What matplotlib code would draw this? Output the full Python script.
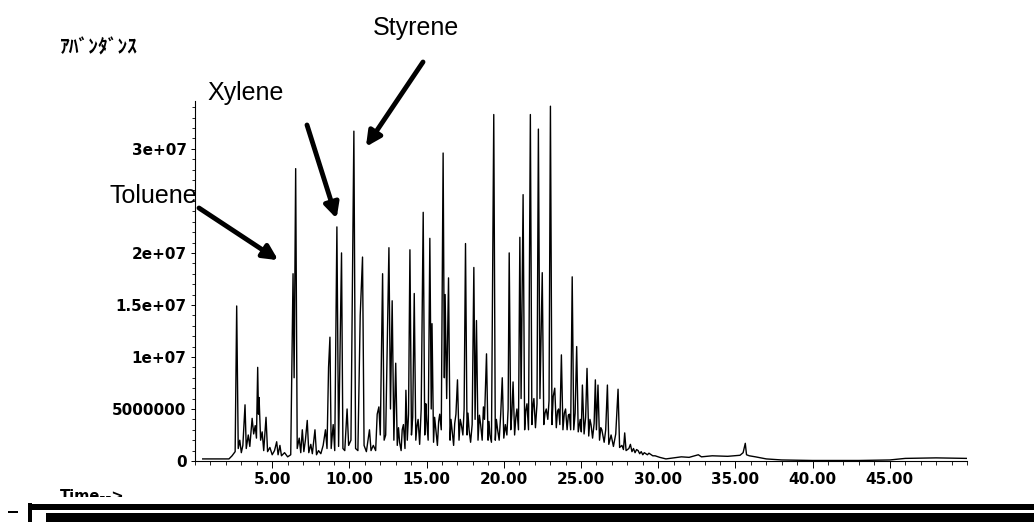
import matplotlib
matplotlib.use('Agg')
import matplotlib.pyplot as plt
from matplotlib.patches import Rectangle
from matplotlib.ticker import FixedLocator, MultipleLocator
from matplotlib.transforms import Bbox

# chromatogram trace: time (min), abundance (millions)
trace_time = [
    0.5, 2.2, 2.4, 2.6, 2.7, 2.8, 2.9, 3.0, 3.1, 3.24, 3.32, 3.45, 3.55, 3.7, 3.8, 3.9,
    3.98, 4.06, 4.11, 4.15, 4.25, 4.35, 4.45, 4.6, 4.7, 4.85, 5.0, 5.15, 5.29, 5.38, 5.5,
    5.6, 5.8, 6.0, 6.2, 6.35, 6.42, 6.52, 6.62, 6.75, 6.85, 6.95, 7.05, 7.15, 7.27, 7.37,
    7.5, 7.6, 7.77, 7.87, 8.0, 8.15, 8.3, 8.45, 8.55, 8.65, 8.74, 8.82, 8.95, 9.05, 9.19,
    9.3, 9.49, 9.58, 9.7, 9.85, 9.95, 10.1, 10.29, 10.4, 10.55, 10.7, 10.85, 10.95, 11.1,
    11.3, 11.4, 11.55, 11.7, 11.8, 11.91, 12.0, 12.15, 12.25, 12.35, 12.56, 12.66, 12.77,
    12.88, 13.0, 13.1, 13.18, 13.25, 13.35, 13.42, 13.5, 13.6, 13.66, 13.75, 13.83, 13.92,
    14.02, 14.1, 14.2, 14.3, 14.38, 14.45, 14.55, 14.65, 14.78, 14.88, 14.95, 15.0, 15.1,
    15.21, 15.3, 15.35, 15.45, 15.52, 15.6, 15.7, 15.78, 15.85, 15.95, 16.07, 16.15, 16.2,
    16.3, 16.42, 16.52, 16.58, 16.65, 16.75, 16.82, 16.9, 17.0, 17.1, 17.18, 17.25, 17.35,
    17.43, 17.52, 17.62, 17.68, 17.75, 17.85, 17.95, 18.06, 18.14, 18.23, 18.33, 18.42,
    18.5, 18.6, 18.68, 18.75, 18.88, 18.98, 19.04, 19.1, 19.2, 19.35, 19.45, 19.52, 19.6,
    19.7, 19.8, 19.9, 20.0, 20.1, 20.2, 20.28, 20.35, 20.45, 20.52, 20.6, 20.7, 20.78,
    20.85, 20.95, 21.04, 21.12, 21.25, 21.35, 21.42, 21.5, 21.6, 21.72, 21.82, 21.88,
    21.95, 22.05, 22.15, 22.24, 22.34, 22.49, 22.59, 22.67, 22.75, 22.85, 22.93, 23.02,
    23.12, 23.2, 23.3, 23.4, 23.48, 23.55, 23.63, 23.73, 23.83, 23.92, 24.0, 24.1, 24.18,
    24.25, 24.33, 24.43, 24.53, 24.62, 24.72, 24.82, 24.95, 25.02, 25.09, 25.2, 25.3,
    25.39, 25.5, 25.58, 25.65, 25.75, 25.85, 25.93, 26.0, 26.1, 26.2, 26.28, 26.35, 26.5,
    26.6, 26.71, 26.8, 26.95, 27.1, 27.25, 27.4, 27.5, 27.65, 27.75, 27.83, 27.92, 28.1,
    28.2, 28.3, 28.4, 28.5, 28.6, 28.7, 28.8, 28.9, 29.0, 29.1, 29.2, 29.3, 29.4, 29.5,
    29.65, 29.8, 30.1, 30.5, 31.0, 31.5, 32.0, 32.6, 32.8, 33.5, 34.5, 35.3, 35.5, 35.64,
    35.72, 35.9, 36.3, 37.0, 38.0, 40.0, 43.0, 45.0, 46.0, 48.0, 50.0,
]
trace_abund = [
    0.2, 0.2, 0.5, 0.9, 14.9, 1.2, 2.0, 0.8, 1.5, 5.4, 1.2, 2.5, 1.4, 4.1, 2.6, 3.4,
    2.2, 9.0, 4.5, 6.1, 2.0, 2.8, 1.0, 4.2, 0.9, 1.3, 0.6, 1.0, 1.85, 0.6, 1.5,
    0.5, 0.8, 0.4, 0.6, 18.0, 8.0, 28.1, 1.2, 2.2, 0.8, 3.0, 0.9, 2.0, 3.9, 0.8,
    1.6, 0.7, 3.0, 0.6, 1.0, 0.7, 1.5, 3.0, 1.2, 9.0, 11.9, 1.2, 3.5, 1.0, 22.5,
    1.4, 20.0, 1.2, 1.0, 5.0, 1.5, 2.0, 31.7, 1.2, 1.0, 14.0, 19.6, 1.5, 0.9,
    3.0, 1.0, 1.5, 1.0, 4.5, 5.2, 2.5, 18.0, 2.0, 2.5, 20.5, 5.0, 15.4,
    2.0, 9.4, 1.5, 3.2, 1.8, 1.0, 3.0, 3.5, 1.2, 6.8, 2.0, 4.5, 20.3,
    2.5, 4.2, 16.1, 2.0, 3.4, 4.0, 1.6, 5.0, 23.9, 2.5, 5.5, 4.0, 2.0,
    21.4, 5.0, 13.2, 1.8, 4.2, 3.0, 1.5, 3.8, 4.5, 3.0, 29.6, 8.0, 16.0,
    6.0, 17.6, 2.0, 4.0, 3.0, 1.5, 3.6, 4.5, 7.8, 2.0, 4.0, 3.5, 2.5,
    5.0, 20.9, 2.5, 4.6, 3.0, 1.8, 3.5, 18.6, 4.0, 13.5, 2.0, 4.4,
    3.5, 2.0, 5.2, 4.0, 10.3, 2.0, 3.8, 2.5, 1.8, 33.3, 2.0, 4.0, 3.0,
    2.0, 4.5, 8.0, 2.2, 3.5, 2.5, 5.0, 20.0, 3.0, 4.5, 7.6, 2.5, 4.2,
    5.0, 3.0, 21.5, 6.0, 25.6, 3.0, 4.8, 5.5, 3.0, 33.3, 3.5, 5.2,
    6.0, 3.2, 5.5, 31.9, 6.0, 18.1, 3.5, 4.6, 5.0, 4.0, 5.8, 34.1,
    3.5, 6.2, 7.0, 3.2, 4.8, 5.0, 3.5, 10.2, 3.0, 4.6, 5.0, 3.0, 4.4,
    4.5, 3.0, 17.7, 3.0, 4.6, 11.0, 2.8, 4.0, 2.8, 7.3, 2.6, 4.2,
    8.9, 2.4, 4.0, 3.5, 2.2, 3.6, 7.8, 3.0, 7.3, 2.0, 3.2, 3.0, 1.8,
    3.0, 7.3, 1.6, 2.5, 1.4, 2.6, 6.9, 1.3, 1.5, 1.1, 2.7, 1.0, 1.2,
    1.6, 0.9, 1.2, 0.8, 1.1, 1.0, 0.7, 0.9, 0.6, 0.8, 0.7, 0.6, 0.75, 0.65,
    0.5, 0.5, 0.35, 0.2, 0.3, 0.4, 0.35, 0.6, 0.4, 0.5, 0.45, 0.55, 0.8, 1.7,
    0.6, 0.5, 0.4, 0.2, 0.1, 0.05, 0.05, 0.1, 0.25, 0.3, 0.25,
]

ytick_vals = [0, 5, 10, 15, 20, 30]
ytick_labels = ['0', '5000000', '1e+07', '1.5e+07', '2e+07', '3e+07']
xtick_vals = [5, 10, 15, 20, 25, 30, 35, 40, 45]
xtick_labels = ['5.00', '10.00', '15.00', '20.00', '25.00', '30.00', '35.00', '40.00', '45.00']

# labelled compounds and where their arrows point (time, abundance)
compounds = ['Toluene', 'Xylene', 'Styrene']
tip_time = [5.39, 9.17, 11.07]
tip_abund = [19.3, 23.3, 30.2]

W, H = 1034, 522


def fpx(x, y):
    # figure pixels measured from the top-left corner -> figure fraction
    return x / W, 1 - y / H


fig = plt.figure(figsize=(W / 100, H / 100), dpi=100)
ax = fig.add_axes([195 / W, 61 / H, 772 / W, 360 / H])

ax.plot(trace_time, trace_abund, color='black', lw=1.0)
ax.set_xlim(0, 50)
ax.set_ylim(0, 34.6)

for s in ['top', 'right']:
    ax.spines[s].set_visible(False)
ax.spines['left'].set_linewidth(0.8)
ax.spines['bottom'].set_linewidth(0.8)

tick_font = dict(family='DejaVu Sans', weight='bold', size=11)
ax.yaxis.set_major_locator(FixedLocator(ytick_vals))
ax.set_yticklabels(ytick_labels, **tick_font)
ax.yaxis.set_minor_locator(MultipleLocator(1))
ax.xaxis.set_major_locator(FixedLocator(xtick_vals))
ax.set_xticklabels(xtick_labels, **tick_font)
ax.xaxis.set_minor_locator(MultipleLocator(1))
ax.tick_params(axis='y', which='major', length=3, width=0.7, pad=3)
ax.tick_params(axis='y', which='minor', length=2, width=0.6)
ax.tick_params(axis='x', which='major', length=5, width=0.7, pad=3)
ax.tick_params(axis='x', which='minor', length=3, width=0.6)

# labels and arrows
name_font = dict(family='Liberation Sans', size=18, ha='left', va='baseline')
fig.text(*fpx(110, 203), compounds[0], **name_font)
fig.text(*fpx(207, 100), compounds[1], **name_font)
fig.text(*fpx(373, 35), compounds[2], **name_font)

tails = [(199, 208), (307, 125), (423, 62)]
for i in range(3):
    ax.annotate('', xy=(tip_time[i], tip_abund[i]), xycoords='data',
                xytext=fpx(*tails[i]), textcoords='figure fraction',
                arrowprops=dict(arrowstyle='-|>', lw=3.5, color='black',
                                mutation_scale=22, shrinkA=0, shrinkB=0))

fig.text(*fpx(60, 53), 'ｱﾊﾞﾝﾀﾞﾝｽ', family=['Noto Sans CJK JP', 'DejaVu Sans'],
         weight='bold', size=14, ha='left', va='baseline')

t = fig.text(*fpx(60, 501), 'Time-->', family='DejaVu Sans', weight='bold',
             size=10.5, ha='left', va='baseline')
t.set_clip_box(Bbox([[0, H - 497], [W, H - 485]]))
t.set_clip_on(True)

# scanned page edge at the bottom
x0, y0 = fpx(31, 510)
fig.patches.append(Rectangle((x0, y0), 1 - x0, 6.5 / H, transform=fig.transFigure,
                             color='black', lw=0))
x0, y0 = fpx(46, 522)
fig.patches.append(Rectangle((x0, y0), 1 - x0, 9.5 / H, transform=fig.transFigure,
                             color='black', lw=0))
x0, y0 = fpx(28, 522)
fig.patches.append(Rectangle((x0, y0), 4 / W, 19 / H, transform=fig.transFigure,
                             color='black', lw=0))
x0, y0 = fpx(8, 513)
fig.patches.append(Rectangle((x0, y0), 10 / W, 2 / H, transform=fig.transFigure,
                             color='black', lw=0))

fig.savefig('out.png', dpi=100)
